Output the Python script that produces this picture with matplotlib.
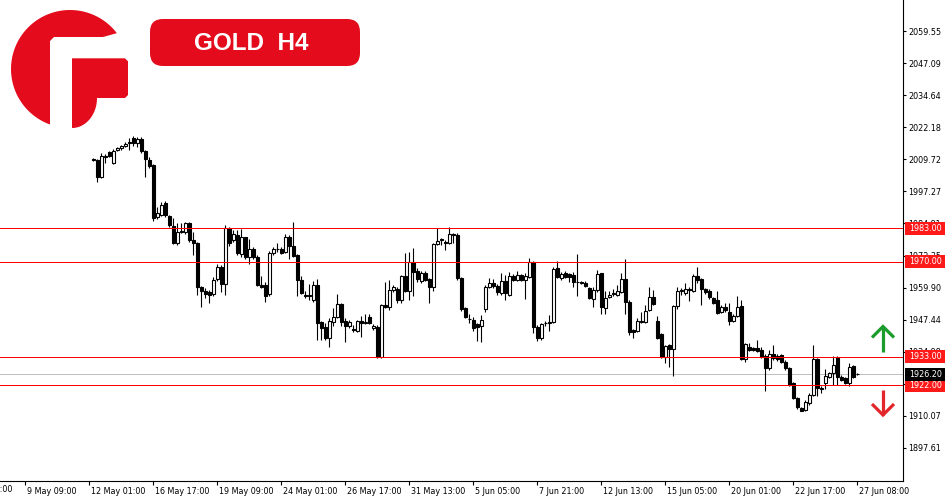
import matplotlib
matplotlib.use("Agg")
import matplotlib.pyplot as plt
import matplotlib.transforms as mtransforms
from matplotlib.patches import Rectangle, Polygon, FancyBboxPatch
import numpy as np

# ---------------- data (GOLD, H4 candles) ----------------
first_bar = 1  # bar index of first candle (bar 0 = 12 May 01:00)

opens = [2009.8, 2009.5, 2002.9, 2010.8, 2012.5, 2008.4, 2013.2, 2014.0, 2014.8, 2016.0,
         2017.9, 2015.9, 2017.6, 2013.0, 2009.5, 2007.5, 1987.2, 1988.2, 1992.7, 1987.7,
         1983.8, 1977.4, 1981.6, 1981.3, 1984.9, 1978.4, 1977.1, 1960.0, 1958.6, 1958.2,
         1957.3, 1963.1, 1968.0, 1961.2, 1983.0, 1978.3, 1980.4, 1973.0, 1979.5, 1971.7,
         1974.8, 1971.7, 1960.8, 1960.8, 1957.3, 1973.2, 1974.8, 1975.0, 1973.9, 1979.7,
         1976.2, 1972.6, 1962.8, 1957.0, 1956.6, 1955.0, 1960.9, 1946.6, 1944.6, 1940.2,
         1946.7, 1948.6, 1953.6, 1946.8, 1944.8, 1943.8, 1943.2, 1947.0, 1946.1, 1948.4,
         1944.1, 1944.5, 1933.1, 1953.1, 1952.5, 1958.9, 1959.4, 1954.9, 1964.4, 1958.7,
         1969.8, 1966.5, 1962.6, 1965.7, 1963.3, 1960.0, 1976.7, 1978.2, 1977.6, 1977.4,
         1980.7, 1980.5, 1963.5, 1951.9, 1947.9, 1947.4, 1945.7, 1944.8, 1951.6, 1960.3,
         1961.6, 1960.6, 1957.7, 1962.5, 1957.0, 1964.4, 1962.9, 1964.7, 1962.9, 1964.2,
         1970.0, 1944.7, 1940.5, 1946.0, 1946.2, 1946.6, 1967.4, 1963.5, 1965.7, 1965.1,
         1964.8, 1962.2, 1962.0, 1961.8, 1959.7, 1955.5, 1959.0, 1965.5, 1951.9, 1956.2,
         1957.5, 1957.0, 1958.3, 1963.2, 1954.5, 1943.3, 1943.2, 1946.7, 1946.5, 1951.2,
         1956.4, 1947.1, 1941.9, 1933.1, 1937.6, 1936.0, 1952.8, 1958.7, 1957.7, 1959.2,
         1958.7, 1964.4, 1963.2, 1959.3, 1958.7, 1955.8, 1954.9, 1950.5, 1952.5, 1950.6,
         1947.1, 1948.9, 1952.8, 1932.1, 1936.7, 1936.5, 1936.4, 1935.7, 1933.4, 1928.6,
         1934.2, 1933.4, 1933.8, 1931.2, 1928.6, 1922.8, 1916.9, 1913.3, 1912.4, 1915.0,
         1918.2, 1932.1, 1920.6, 1923.0, 1925.3, 1926.9, 1933.1, 1925.1, 1924.7, 1923.0,
         1929.5, 1926.5]

highs = [2010.2, 2009.9, 2012.2, 2011.8, 2012.9, 2013.6, 2014.4, 2015.3, 2016.3, 2017.9,
         2018.8, 2018.4, 2018.4, 2013.4, 2010.8, 2008.0, 1991.1, 1993.0, 1993.5, 1988.1,
         1986.8, 1985.1, 1985.1, 1985.5, 1985.5, 1981.6, 1977.5, 1960.5, 1959.6, 1958.8,
         1964.2, 1969.1, 1968.5, 1984.2, 1983.5, 1982.3, 1982.3, 1982.7, 1979.7, 1978.7,
         1975.6, 1972.5, 1964.4, 1962.2, 1974.0, 1975.5, 1977.4, 1975.8, 1980.8, 1980.4,
         1985.4, 1973.0, 1964.5, 1958.5, 1961.3, 1962.5, 1963.2, 1947.0, 1946.1, 1948.0,
         1951.9, 1957.5, 1954.0, 1948.0, 1947.2, 1945.5, 1947.4, 1948.9, 1949.6, 1949.6,
         1945.7, 1945.4, 1953.6, 1962.2, 1962.9, 1961.0, 1960.0, 1964.8, 1973.2, 1973.9,
         1975.2, 1967.4, 1966.5, 1966.3, 1963.8, 1977.3, 1983.0, 1979.1, 1978.4, 1983.3,
         1981.0, 1981.0, 1964.0, 1952.3, 1949.6, 1948.6, 1946.3, 1949.3, 1960.9, 1963.5,
         1963.4, 1961.2, 1965.5, 1964.8, 1966.1, 1965.0, 1966.4, 1965.2, 1965.7, 1971.4,
         1970.4, 1945.2, 1946.1, 1947.0, 1949.3, 1968.0, 1970.4, 1966.1, 1966.3, 1965.7,
         1966.1, 1973.0, 1962.6, 1962.5, 1960.3, 1960.3, 1966.8, 1965.7, 1958.4, 1958.7,
         1959.5, 1960.9, 1965.5, 1971.0, 1955.0, 1944.0, 1948.0, 1950.6, 1953.2, 1960.3,
         1959.0, 1949.0, 1942.3, 1937.8, 1938.0, 1953.2, 1960.1, 1959.6, 1961.8, 1960.3,
         1965.2, 1967.8, 1963.5, 1959.6, 1959.3, 1956.3, 1958.4, 1953.3, 1953.8, 1953.8,
         1949.5, 1956.7, 1954.9, 1938.5, 1938.3, 1937.0, 1939.6, 1937.0, 1934.0, 1935.7,
         1937.6, 1934.0, 1934.2, 1931.6, 1929.0, 1923.3, 1917.3, 1913.7, 1916.3, 1919.1,
         1937.6, 1932.5, 1921.7, 1928.2, 1927.3, 1933.4, 1933.4, 1926.0, 1925.1, 1930.8,
         1929.9, 1926.6]

lows = [2009.0, 2001.0, 2002.5, 2008.4, 2010.6, 2008.0, 2013.1, 2013.4, 2014.6, 2013.4,
        2014.9, 2014.6, 2012.3, 2002.8, 2006.5, 1985.8, 1986.5, 1987.6, 1987.5, 1983.5,
        1976.8, 1976.5, 1981.0, 1980.8, 1977.8, 1972.6, 1957.0, 1952.3, 1955.8, 1954.1,
        1956.8, 1962.5, 1958.0, 1957.0, 1976.1, 1977.8, 1972.6, 1971.7, 1970.9, 1969.1,
        1971.2, 1960.5, 1959.8, 1954.5, 1956.5, 1972.5, 1973.8, 1972.8, 1973.5, 1970.9,
        1971.9, 1956.7, 1957.4, 1955.9, 1955.1, 1954.5, 1939.6, 1939.5, 1939.6, 1937.0,
        1945.0, 1948.1, 1945.0, 1938.9, 1944.3, 1942.5, 1942.8, 1940.9, 1945.7, 1945.8,
        1943.4, 1932.5, 1932.5, 1951.8, 1951.2, 1958.0, 1954.1, 1954.1, 1958.0, 1955.1,
        1956.7, 1962.2, 1961.8, 1962.3, 1953.8, 1958.7, 1976.3, 1976.5, 1974.5, 1977.0,
        1977.1, 1963.0, 1951.0, 1948.2, 1946.1, 1943.2, 1939.3, 1938.7, 1950.6, 1959.9,
        1959.6, 1957.0, 1957.2, 1954.9, 1956.5, 1962.3, 1962.5, 1962.4, 1955.4, 1963.7,
        1942.2, 1939.0, 1939.6, 1945.0, 1943.2, 1946.2, 1963.5, 1963.0, 1963.8, 1962.2,
        1960.3, 1956.7, 1961.2, 1960.2, 1955.4, 1952.3, 1958.2, 1949.7, 1949.7, 1955.8,
        1956.5, 1956.5, 1957.9, 1949.7, 1941.5, 1940.3, 1942.8, 1946.0, 1946.0, 1950.8,
        1953.0, 1939.9, 1932.5, 1930.8, 1929.2, 1925.4, 1951.5, 1957.0, 1957.2, 1954.8,
        1958.3, 1961.6, 1953.2, 1957.5, 1955.6, 1953.6, 1949.8, 1950.0, 1950.6, 1945.4,
        1946.6, 1948.4, 1931.6, 1931.0, 1935.2, 1935.3, 1934.8, 1932.6, 1919.8, 1928.0,
        1931.8, 1931.5, 1930.8, 1928.0, 1921.6, 1916.5, 1912.7, 1911.8, 1911.8, 1914.5,
        1917.8, 1917.9, 1919.1, 1920.5, 1924.9, 1922.1, 1922.1, 1923.5, 1922.5, 1921.5,
        1924.6, 1926.1]

closes = [2009.4, 2002.9, 2011.0, 2011.2, 2011.0, 2013.1, 2014.0, 2014.8, 2015.8, 2016.3,
          2015.9, 2017.5, 2013.1, 2009.8, 2007.3, 1987.1, 1988.8, 1992.1, 1988.0, 1984.2,
          1977.1, 1981.6, 1981.9, 1984.9, 1978.2, 1977.4, 1960.0, 1958.7, 1957.5, 1957.2,
          1962.9, 1968.0, 1961.2, 1983.0, 1977.4, 1980.6, 1973.2, 1979.5, 1971.7, 1974.8,
          1971.7, 1960.8, 1960.0, 1956.8, 1973.2, 1974.8, 1975.0, 1973.5, 1979.5, 1976.2,
          1972.3, 1962.8, 1957.9, 1956.6, 1957.0, 1960.9, 1946.3, 1944.4, 1940.5, 1946.9,
          1948.6, 1953.6, 1946.7, 1944.8, 1946.6, 1943.5, 1947.0, 1946.1, 1946.5, 1946.3,
          1945.1, 1933.1, 1953.1, 1952.5, 1959.0, 1960.1, 1954.9, 1964.4, 1958.4, 1969.8,
          1966.1, 1963.1, 1965.7, 1962.9, 1960.3, 1976.9, 1978.0, 1978.6, 1977.2, 1980.7,
          1980.3, 1963.5, 1951.6, 1948.6, 1947.6, 1944.4, 1944.5, 1947.4, 1960.3, 1961.6,
          1960.6, 1958.1, 1962.5, 1957.7, 1964.4, 1962.9, 1964.7, 1962.9, 1964.4, 1970.0,
          1944.7, 1940.3, 1945.7, 1946.2, 1946.7, 1967.0, 1963.9, 1965.2, 1964.2, 1964.2,
          1961.9, 1962.0, 1961.7, 1960.6, 1955.8, 1959.0, 1965.2, 1952.3, 1955.8, 1957.0,
          1957.7, 1958.7, 1963.2, 1954.2, 1942.8, 1942.6, 1947.0, 1946.9, 1951.0, 1956.2,
          1953.6, 1940.2, 1932.9, 1937.4, 1936.0, 1952.8, 1958.7, 1958.9, 1959.3, 1958.9,
          1964.4, 1962.9, 1959.3, 1958.0, 1956.2, 1954.1, 1950.2, 1952.3, 1951.2, 1947.1,
          1948.9, 1952.5, 1932.1, 1937.9, 1935.7, 1935.7, 1935.3, 1933.1, 1928.5, 1934.2,
          1932.4, 1932.1, 1931.2, 1928.6, 1922.1, 1916.9, 1913.7, 1912.1, 1915.6, 1918.2,
          1932.1, 1920.8, 1920.9, 1925.6, 1926.9, 1929.9, 1925.1, 1924.1, 1923.0, 1929.0,
          1925.1, 1926.2]

date_tick_bars = [-32, -16, 0, 16, 32, 48, 64, 80, 96, 112, 128, 144, 160, 176, 192]
date_labels = ["4 May 17:00", "9 May 09:00", "12 May 01:00", "16 May 17:00", "19 May 09:00",
               "24 May 01:00", "26 May 17:00", "31 May 13:00", "5 Jun 05:00", "7 Jun 21:00",
               "12 Jun 13:00", "15 Jun 05:00", "20 Jun 01:00", "22 Jun 17:00", "27 Jun 08:00"]

price_ticks = [2059.55, 2047.09, 2034.64, 2022.18, 2009.72, 1997.27, 1984.81, 1972.35,
               1959.90, 1947.44, 1934.98, 1922.52, 1910.07, 1897.61]

levels = [1983.00, 1970.00, 1933.00, 1922.00]
current_price = 1926.20

title_text = "GOLD  H4"

# ---------------- figure ----------------
W, H = 950, 500
fig = plt.figure(figsize=(W / 100, H / 100), dpi=100, facecolor="white")
ax_right_px = 903.3
ax_bottom_px = 480.7
ax = fig.add_axes([0, (H - ax_bottom_px) / H, ax_right_px / W, ax_bottom_px / H])
ax.set_facecolor("white")

ax.set_xlim(-22.33, 203.5)
ax.set_ylim(1884.91, 2071.59)

TXT = dict(family="DejaVu Sans", size=5.8, color="black")
PX = 0.72  # one pixel in points

# candles
o = np.array(opens); h = np.array(highs); l = np.array(lows); c = np.array(closes)
x = np.arange(len(o)) + first_bar
up = c >= o
ax.vlines(x, l, h, color="black", lw=PX * 1.1, zorder=2)
bottom = np.minimum(o, c)
height = np.maximum(np.abs(c - o), 0.2)
ax.bar(x[up], height[up], bottom=bottom[up], width=0.7, facecolor="white",
       edgecolor="black", linewidth=PX * 1.1, zorder=3)
ax.bar(x[~up], height[~up], bottom=bottom[~up], width=0.7, facecolor="black",
       edgecolor="black", linewidth=PX * 1.1, zorder=3)

# horizontal levels
ax.axhline(current_price, color="#c0c0c0", lw=PX, zorder=1)
for lv in levels:
    ax.axhline(lv, color="#ff0000", lw=PX, zorder=4)

# spines
for s in ["top", "left"]:
    ax.spines[s].set_visible(False)
ax.spines["right"].set_linewidth(0.8)
ax.spines["bottom"].set_linewidth(0.8)

# y ticks on right
ax.yaxis.tick_right()
ax.set_yticks(price_ticks)
ax.set_yticklabels([f"{v:.2f}" for v in price_ticks], **TXT)
ax.tick_params(axis="y", direction="out", length=2.4, width=0.8, pad=1.0)

# x ticks
ax.set_xticks(date_tick_bars[1:])
ax.set_xticklabels(date_labels[1:], ha="left", **TXT)
ax.tick_params(axis="x", direction="out", length=3.2, width=0.8, pad=1.2)
off = mtransforms.ScaledTranslation(1.5 / 100, 0, fig.dpi_scale_trans)
for lab in ax.get_xticklabels():
    lab.set_transform(lab.get_transform() + off)
# label of the tick that lies left of the window (only its tail is visible)
bx = mtransforms.blended_transform_factory(ax.transData, ax.transAxes)
ax.text(date_tick_bars[0], 0, date_labels[0],
        transform=bx + mtransforms.ScaledTranslation(1.5 / 100, -4.4 / 100, fig.dpi_scale_trans),
        ha="left", va="top", clip_on=False, **TXT)

# price labels on right axis
by = mtransforms.blended_transform_factory(ax.transAxes, ax.transData)
box_x0 = 905.5 / ax_right_px
box_w = 39.5 / ax_right_px
box_h = 13.0 * (2071.59 - 1884.91) / ax_bottom_px
def price_label(val, fc):
    ax.add_patch(Rectangle((box_x0, val - box_h / 2), box_w, box_h, transform=by,
                           facecolor=fc, edgecolor="none", clip_on=False, zorder=6))
    ax.text(box_x0 + box_w / 2, val, f"{val:.2f}", transform=by, ha="center", va="center",
            family="DejaVu Sans", size=5.8, color="white", clip_on=False, zorder=7)
for lv in levels:
    price_label(lv, "#ff1a1a")
price_label(current_price, "#000000")

# ---------------- overlay: logo, title, arrows ----------------
ov = fig.add_axes([0, 0, 1, 1], zorder=10)
ov.set_xlim(0, W); ov.set_ylim(H, 0); ov.axis("off")
red = "#e30b1c"
cx, cy, R = 70.0, 69.0, 59.0
th = np.radians(np.linspace(37.4, 250.2, 80))
left_pts = [(cx + R * np.cos(t), cy - R * np.sin(t)) for t in th]
left_pts += [(50, 41), (54, 37), (103, 37)]
ov.add_patch(Polygon(left_pts, closed=True, facecolor=red, edgecolor="none"))
tt = np.radians(np.linspace(0, 90, 30))
right_pts = [(72, 58.3), (125, 58.3), (128, 61.3), (128, 95), (125, 98)]
right_pts += [(72 + 25 * np.cos(t), 98 + 30 * np.sin(t)) for t in tt]
ov.add_patch(Polygon(right_pts, closed=True, facecolor=red, edgecolor="none"))

ov.add_patch(FancyBboxPatch((150, 19), 210, 47, boxstyle="round,pad=0,rounding_size=13",
                            facecolor=red, edgecolor="none"))
ov.text(251, 43.5, title_text, ha="center", va="center", color="white",
        family="Liberation Sans", weight="bold", size=17.5)

green = "#1c9c2c"
ov.plot([883, 883], [352, 327], color=green, lw=2.3, solid_capstyle="butt")
ov.plot([872, 883, 894], [337.5, 326.5, 337.5], color=green, lw=2.3,
        solid_joinstyle="miter", solid_capstyle="butt")
red2 = "#e3262b"
ov.plot([883, 883], [390, 415], color=red2, lw=2.3, solid_capstyle="butt")
ov.plot([872, 883, 894], [404, 415, 404], color=red2, lw=2.3,
        solid_joinstyle="miter", solid_capstyle="butt")

fig.savefig("out.png", dpi=100, facecolor="white")
